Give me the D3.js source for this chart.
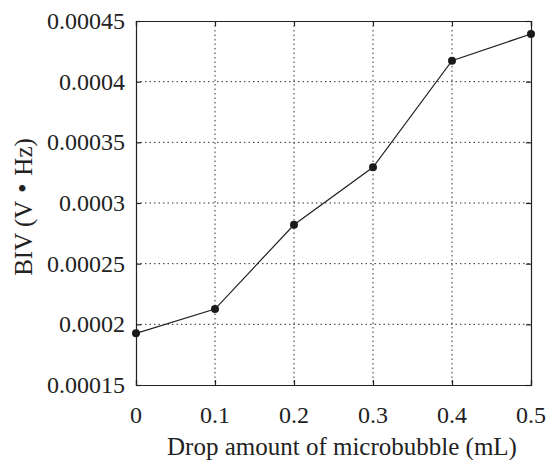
<!DOCTYPE html>
<html>
<head>
<meta charset="utf-8">
<script src="https://cdn.jsdelivr.net/npm/d3@7"></script>
<style>
body { margin: 0; background: white; }
</style>
</head>
<body>
<script>
const width = 546
const height = 460
const margin = {top: 21, left: 136, bottom: 75, right: 15}
const serif = "'Liberation Serif', Tinos, 'Times New Roman', serif"

// data
const dropAmount = [0, 0.1, 0.2, 0.3, 0.4, 0.5]
const biv = [0.0001926, 0.0002126, 0.0002821, 0.0003294, 0.0004173, 0.0004393]
const xTicks = [0, 0.1, 0.2, 0.3, 0.4, 0.5]
const xTickLabels = ["0", "0.1", "0.2", "0.3", "0.4", "0.5"]
const yTicks = [0.00015, 0.0002, 0.00025, 0.0003, 0.00035, 0.0004, 0.00045]
const yTickLabels = ["0.00015", "0.0002", "0.00025", "0.0003", "0.00035", "0.0004", "0.00045"]

const svg = d3.select("body").append("svg")
    .attr("width", width)
    .attr("height", height)

const w = width - margin.left - margin.right
const h = height - margin.top - margin.bottom

const x = d3.scaleLinear().domain([0, 0.5]).range([0, w])
const y = d3.scaleLinear().domain([0.00015, 0.00045]).range([h, 0])

const main = svg.append("g")
    .attr("transform", `translate(${margin.left},${margin.top})`)

// dotted grid
main.selectAll(".vgrid")
    .data(xTicks.slice(1, -1))
    .enter()
    .append("line")
    .attr("x1", d => x(d)).attr("x2", d => x(d))
    .attr("y1", 0).attr("y2", h)
    .attr("stroke", "#333")
    .attr("stroke-width", 1)
    .attr("stroke-dasharray", "1.5,3")
main.selectAll(".hgrid")
    .data(yTicks.slice(1, -1))
    .enter()
    .append("line")
    .attr("x1", 0).attr("x2", w)
    .attr("y1", d => y(d)).attr("y2", d => y(d))
    .attr("stroke", "#333")
    .attr("stroke-width", 1)
    .attr("stroke-dasharray", "1.5,3")

// axes, ticks pointing inward, mirrored on top/right
const tickLen = 5
main.append("g")
    .attr("transform", `translate(0,${h})`)
    .call(d3.axisTop(x).tickValues(xTicks).tickSize(tickLen).tickFormat(""))
main.append("g")
    .call(d3.axisBottom(x).tickValues(xTicks).tickSize(tickLen).tickFormat(""))
main.append("g")
    .call(d3.axisRight(y).tickValues(yTicks).tickSize(tickLen).tickFormat(""))
main.append("g")
    .attr("transform", `translate(${w},0)`)
    .call(d3.axisLeft(y).tickValues(yTicks).tickSize(tickLen).tickFormat(""))
main.selectAll(".domain, .tick line").attr("stroke", "#222").attr("stroke-width", 1.2)

// tick labels
main.selectAll(".xlab")
    .data(xTicks)
    .enter()
    .append("text")
    .attr("x", d => x(d))
    .attr("y", h + 38)
    .attr("text-anchor", "middle")
    .style("font-family", serif)
    .style("font-size", "24px")
    .style("fill", "#222")
    .text((d, i) => xTickLabels[i])
main.selectAll(".ylab")
    .data(yTicks)
    .enter()
    .append("text")
    .attr("x", -11)
    .attr("y", d => y(d))
    .attr("dy", "0.34em")
    .attr("text-anchor", "end")
    .style("font-family", serif)
    .style("font-size", "24px")
    .style("fill", "#222")
    .text((d, i) => yTickLabels[i])

// axis titles
svg.append("text")
    .attr("x", 342)
    .attr("y", 455)
    .attr("text-anchor", "middle")
    .style("font-family", serif)
    .style("font-size", "25px")
    .style("fill", "#222")
    .text("Drop amount of microbubble (mL)")
svg.append("text")
    .attr("transform", `translate(32,${margin.top + h / 2 + 4}) rotate(-90)`)
    .attr("text-anchor", "middle")
    .style("font-family", serif)
    .style("font-size", "25px")
    .style("fill", "#222")
    .html('BIV (V<tspan style="font-family: \'Noto Sans CJK JP\'; font-weight: bold">・</tspan>Hz)')

// series line and markers
const points = dropAmount.map((d, i) => [d, biv[i]])
main.append("path")
    .datum(points)
    .attr("fill", "none")
    .attr("stroke", "#222")
    .attr("stroke-width", 1.2)
    .attr("d", d3.line().x(d => x(d[0])).y(d => y(d[1])))
main.selectAll(".pt")
    .data(points)
    .enter()
    .append("circle")
    .attr("cx", d => x(d[0]))
    .attr("cy", d => y(d[1]))
    .attr("r", 4)
    .attr("fill", "#1a1a1a")
</script>
</body>
</html>
